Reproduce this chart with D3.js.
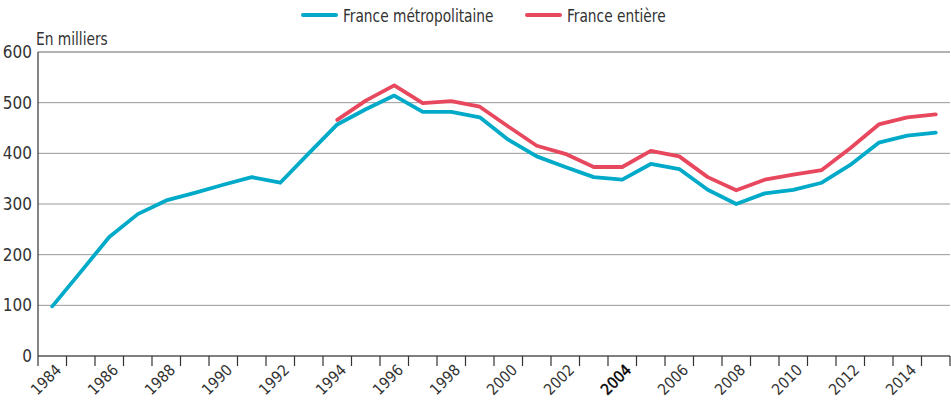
<!DOCTYPE html>
<html>
<head>
<meta charset="utf-8">
<script src="https://cdn.jsdelivr.net/npm/d3@7"></script>
<style>
  body { margin: 0; background: #fff; }
  text { font-family: "DejaVu Sans Condensed", "DejaVu Sans", sans-serif; font-stretch: condensed; fill: #333; }
</style>
</head>
<body>
<script>
const w = 951;
const h = 400;
const margin = { top: 52, right: 1, bottom: 44, left: 38 };

const years = d3.range(1984, 2016);
const metro = [98, 166, 235, 280, 307, 322, 338, 353, 342, 400, 457, 487, 514, 482, 482, 471,
  427, 394, 373, 353, 348, 379, 369, 328, 300, 321, 328, 342, 377, 421, 435, 441];
// France entière starts in 1994
const entiere = [null, null, null, null, null, null, null, null, null, null, 466, 504, 534, 499, 503, 492,
  453, 415, 399, 373, 373, 405, 394, 353, 327, 348, 358, 367, 410, 457, 471, 477];
const yTicks = [0, 100, 200, 300, 400, 500, 600];
const labelYears = d3.range(1984, 2016, 2);
const seriesNames = ["France métropolitaine", "France entière"];
const colors = ["#00aac8", "#e8485e"];

const svg = d3.select("body").append("svg").attr("width", w).attr("height", h);

const x = d3.scaleBand().domain(years).range([margin.left, w - margin.right]);
const y = d3.scaleLinear().domain([0, 600]).range([h - margin.bottom, margin.top]);

// gridlines
svg.append("g")
  .selectAll("line")
  .data(yTicks)
  .enter()
  .append("line")
  .attr("x1", margin.left)
  .attr("x2", w - margin.right)
  .attr("y1", (d) => y(d))
  .attr("y2", (d) => y(d))
  .attr("stroke", (d) => (d === 600 ? "#666" : "#999"))
  .attr("stroke-width", 1);

// y labels
svg.append("g")
  .selectAll("text")
  .data(yTicks)
  .enter()
  .append("text")
  .attr("x", 32)
  .attr("y", (d) => y(d) + 6)
  .attr("text-anchor", "end")
  .style("font-size", "17px")
  .text((d) => d);

svg.append("text")
  .attr("transform", "translate(36, 45) scale(0.9, 1)")
  .style("font-size", "17px")
  .text("En milliers");

// axes lines
svg.append("line")
  .attr("x1", margin.left).attr("x2", margin.left)
  .attr("y1", y(600)).attr("y2", y(0) + 10)
  .attr("stroke", "#333").attr("stroke-width", 1.2);
svg.append("line")
  .attr("x1", margin.left).attr("x2", w - margin.right)
  .attr("y1", y(0)).attr("y2", y(0))
  .attr("stroke", "#333").attr("stroke-width", 1.2);

// ticks at band boundaries
svg.append("g")
  .selectAll("line")
  .data(years)
  .enter()
  .append("line")
  .attr("x1", (d) => x(d) + x.bandwidth())
  .attr("x2", (d) => x(d) + x.bandwidth())
  .attr("y1", y(0))
  .attr("y2", y(0) + 10)
  .attr("stroke", "#333")
  .attr("stroke-width", 1.2);

// x labels
svg.append("g")
  .selectAll("text")
  .data(labelYears)
  .enter()
  .append("text")
  .attr("text-anchor", "end")
  .attr("transform", (d) => `translate(${x(d) + x.bandwidth() / 2 + 10}, ${y(0) + 15}) rotate(-45)`)
  .style("font-size", "15.5px")
  .style("fill", (d) => (d === 2004 ? "#000" : "#333"))
  .style("stroke", (d) => (d === 2004 ? "#000" : "none"))
  .style("stroke-width", 0.4)
  .text((d) => d);

// lines
const line = d3
  .line()
  .defined((d) => d.v != null)
  .x((d) => x(d.year) + x.bandwidth() / 2)
  .y((d) => y(d.v));

[metro, entiere].forEach((vals, k) => {
  svg.append("path")
    .datum(years.map((yr, i) => ({ year: yr, v: vals[i] })))
    .attr("fill", "none")
    .attr("stroke", colors[k])
    .attr("stroke-width", 3.8)
    .attr("stroke-linejoin", "round")
    .attr("stroke-linecap", "round")
    .attr("d", line);
});

// legend
const legendX = [303, 527];
const legend = svg.append("g");
seriesNames.forEach((name, k) => {
  legend.append("line")
    .attr("x1", legendX[k]).attr("x2", legendX[k] + 33)
    .attr("y1", 15).attr("y2", 15)
    .attr("stroke", colors[k])
    .attr("stroke-width", 4)
    .attr("stroke-linecap", "round");
  legend.append("text")
    .attr("transform", `translate(${legendX[k] + 40}, 22) scale(0.85, 1)`)
    .style("font-size", "18px")
    .text(name);
});
</script>
</body>
</html>
